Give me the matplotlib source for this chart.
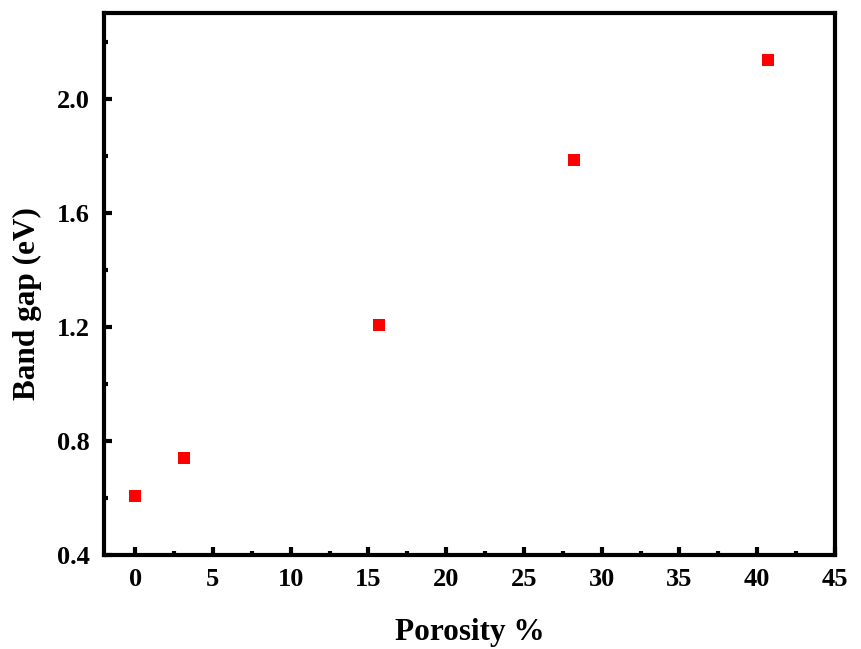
import matplotlib
matplotlib.use('Agg')
import matplotlib.pyplot as plt
from matplotlib.ticker import MultipleLocator, FormatStrFormatter

porosity = [0.0, 3.15, 15.7, 28.2, 40.7]
band_gap = [0.607, 0.740, 1.205, 1.786, 2.134]

plt.rcParams['font.family'] = ['Liberation Serif', 'DejaVu Serif']
plt.rcParams['font.weight'] = 'bold'

fig = plt.figure(figsize=(8.62, 6.49), dpi=100)
ax = fig.add_axes([104/862, 1-555/649, (835-104)/862, (555-13)/649])

ax.scatter(porosity, band_gap, marker='s', s=75, color='red', linewidths=0, zorder=3)

ax.set_xlim(-2, 45)
ax.set_ylim(0.4, 2.3)
ax.xaxis.set_major_locator(MultipleLocator(5))
ax.xaxis.set_minor_locator(MultipleLocator(2.5))
ax.yaxis.set_major_locator(MultipleLocator(0.4))
ax.yaxis.set_minor_locator(MultipleLocator(0.2))
ax.yaxis.set_major_formatter(FormatStrFormatter('%.1f'))

for s in ax.spines.values():
    s.set_linewidth(3)
ax.tick_params(which='both', direction='in', width=3, labelsize=19, top=False, right=False)
ax.tick_params(which='major', length=6)
ax.tick_params(which='minor', length=3)
ax.tick_params(axis='x', which='major', pad=9)
ax.tick_params(axis='y', which='major', pad=10)

ax.set_xlabel('Porosity %', fontsize=22.5, fontweight='bold', labelpad=20)
ax.set_ylabel('Band gap (eV)', fontsize=22.5, fontweight='bold')
ax.yaxis.set_label_coords(-0.085, 0.463)

fig.savefig('out.png', dpi=100)
